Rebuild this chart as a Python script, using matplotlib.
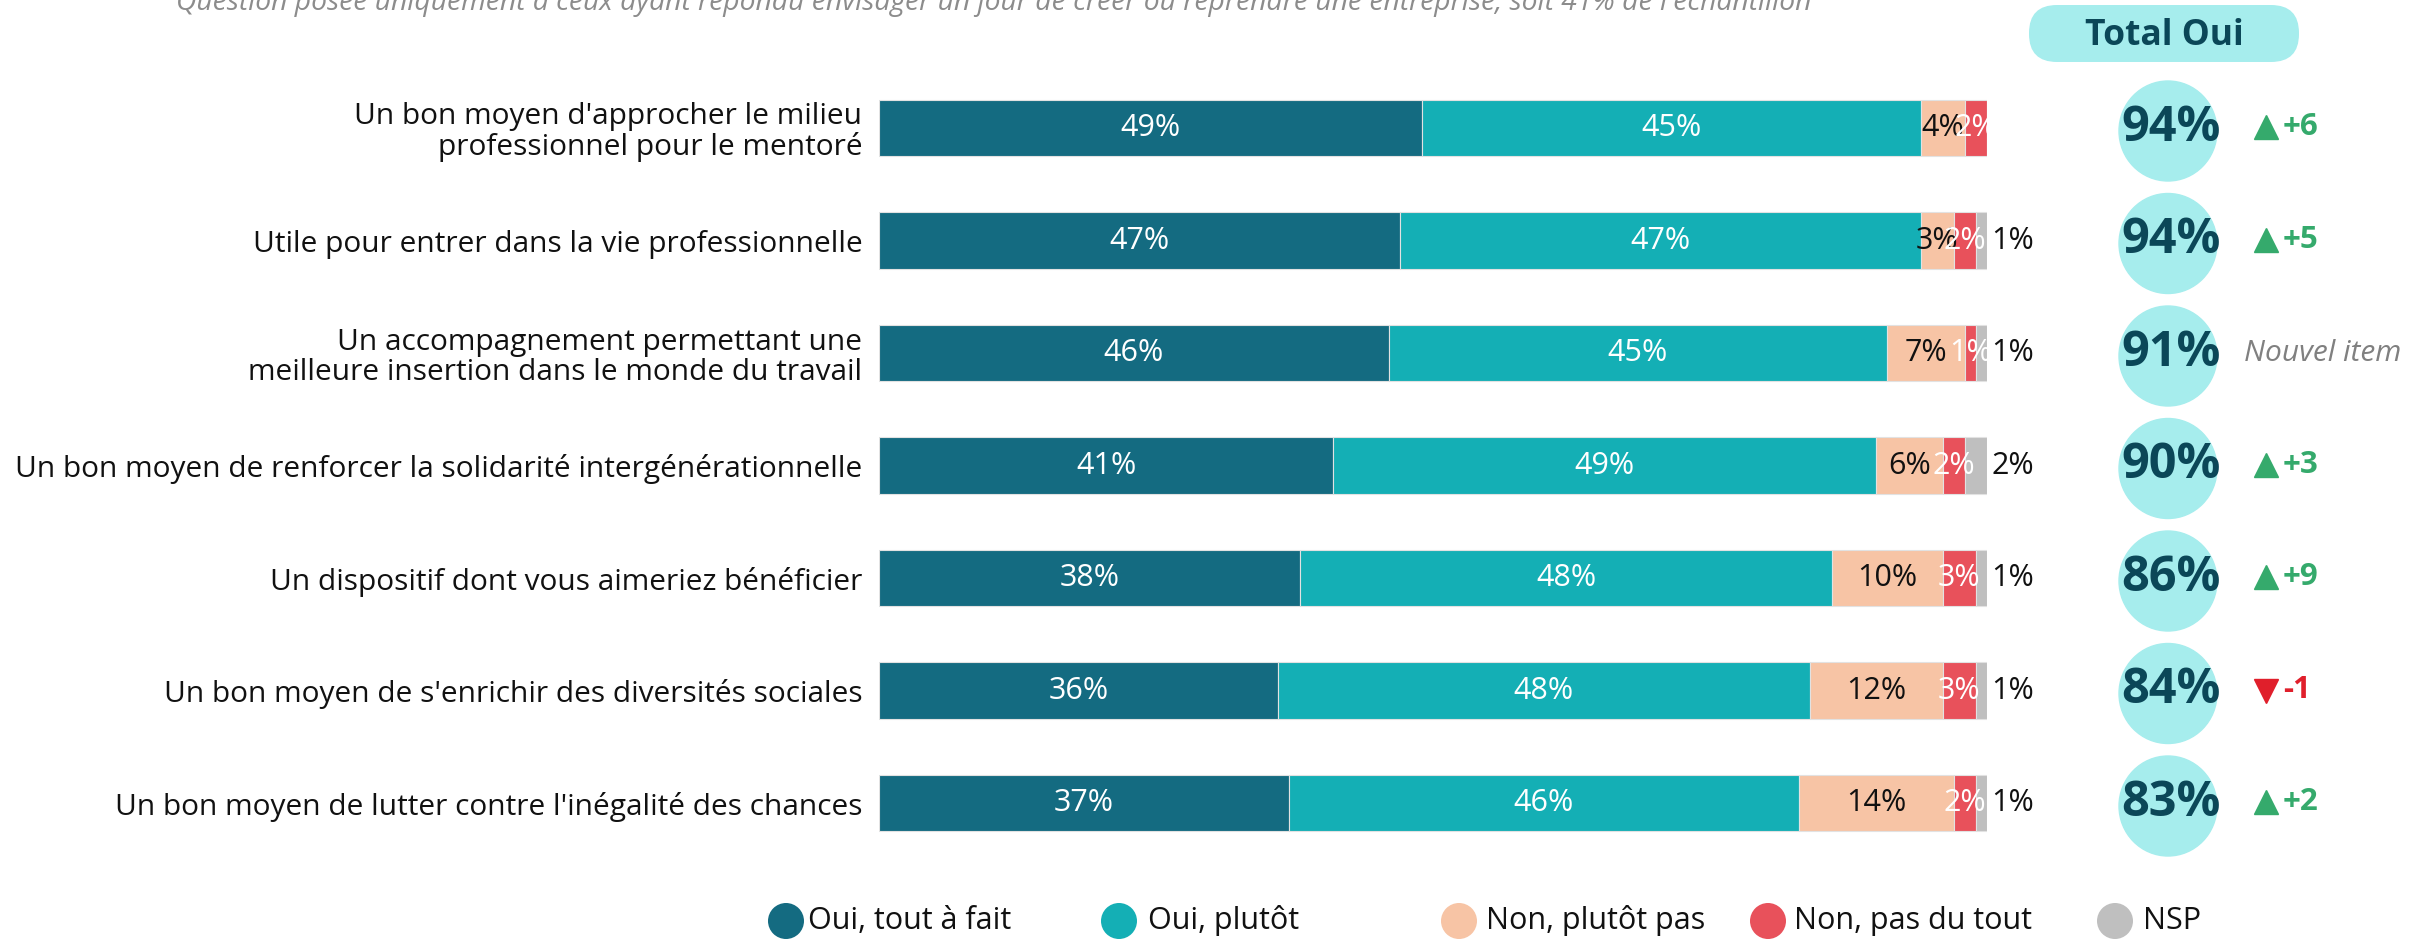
import matplotlib
matplotlib.use("Agg")
import matplotlib.pyplot as plt
from matplotlib.patches import Ellipse, FancyBboxPatch

plt.rcParams['font.family'] = ['Open Sans', 'DejaVu Sans']

# données
categories = [
    "Un bon moyen d'approcher le milieu\nprofessionnel pour le mentoré",
    "Utile pour entrer dans la vie professionnelle",
    "Un accompagnement permettant une\nmeilleure insertion dans le monde du travail",
    "Un bon moyen de renforcer la solidarité intergénérationnelle",
    "Un dispositif dont vous aimeriez bénéficier",
    "Un bon moyen de s'enrichir des diversités sociales",
    "Un bon moyen de lutter contre l'inégalité des chances",
]
oui_tout = [49, 47, 46, 41, 38, 36, 37]
oui_plutot = [45, 47, 45, 49, 48, 48, 46]
non_plutot = [4, 3, 7, 6, 10, 12, 14]
non_pas = [2, 2, 1, 2, 3, 3, 2]
nsp = [0, 1, 1, 2, 1, 1, 1]
total_oui = [94, 94, 91, 90, 86, 84, 83]
evolution = ["+6", "+5", None, "+3", "+9", "-1", "+2"]
series_names = ["Oui, tout à fait", "Oui, plutôt", "Non, plutôt pas", "Non, pas du tout", "NSP"]
subtitle = ("Question posée uniquement à ceux ayant répondu envisager un jour de créer "
            "ou reprendre une entreprise, soit 41% de l'échantillon")

colors = ["#146b81", "#14afb5", "#f7c4a5", "#e8515b", "#bfbfbf"]
label_colors = ["white", "white", "#111111", "white", "#111111"]
circle_col = "#a6eded"
dark_txt = "#0b4758"

W, H = 2423, 939
fig = plt.figure(figsize=(W / 100, H / 100), dpi=100)

# axe principal : 0-100 % sur 879-1987 px, lignes espacées de 112.5 px
ax = fig.add_axes([879 / W, 1 - 859.25 / H, 1108 / W, 787.5 / H], zorder=2)
ax.patch.set_alpha(0)
xu = 100 / 1108   # unités x par pixel
yu = 1 / 112.5    # unités y par pixel

series = [oui_tout, oui_plutot, non_plutot, non_pas, nsp]
rows = range(len(categories))
left = [0] * len(categories)
for k, vals in enumerate(series):
    ax.barh(rows, vals, left=left, height=0.5, color=colors[k],
            edgecolor="#e2e2e2", linewidth=0.8)
    for i, v in enumerate(vals):
        if v == 0:
            continue
        if k == 4:
            ax.text(100 + 2.3, i, f"{v}%", ha="center", va="center",
                    fontsize=22, color=label_colors[k])
        else:
            ax.text(left[i] + v / 2, i, f"{v}%", ha="center", va="center",
                    fontsize=22, color=label_colors[k])
    left = [a + b for a, b in zip(left, vals)]

ax.set_xlim(0, 100)
ax.set_ylim(6.5, -0.5)
ax.set_yticks(list(rows), categories, fontsize=21.5, color="#111111",
              linespacing=1.05)
ax.tick_params(axis="y", length=0, pad=12)
ax.set_xticks([])
for s in ax.spines.values():
    s.set_visible(False)

# colonne Total Oui
for i, t in enumerate(total_oui):
    ax.add_patch(Ellipse(((2168 - 879) * xu, i + 3 * yu), 98 * xu, 100 * yu,
                         color=circle_col, clip_on=False, zorder=1))
    ax.text((2171 - 879) * xu, i, f"{t}%", ha="center", va="center",
            fontsize=35, fontweight="bold", color=dark_txt, zorder=3)
    ev = evolution[i]
    if ev is None:
        ax.text((2244 - 879) * xu, i, "Nouvel item", ha="left", va="center",
                fontsize=21.5, style="italic", color="#808080")
    else:
        up = ev.startswith("+")
        c = "#35aa6c" if up else "#e01f2b"
        ax.plot((2266 - 879) * xu, i - (1 if up else 0) * yu, marker="^" if up else "v",
                markersize=17, color=c, clip_on=False)
        ax.text((2283 - 879) * xu, i - 1 * yu, ev, ha="left", va="center",
                fontsize=22.5, fontweight="bold", color=c)

# calque en pixels : sous-titre, pastille, légende
ov = fig.add_axes([0, 0, 1, 1], zorder=1)
ov.set_xlim(0, W)
ov.set_ylim(H, 0)
ov.axis("off")

ov.text(994, 10, subtitle, ha="center", va="baseline", fontsize=20.3,
        style="italic", color="#8c8c8c")

ov.add_patch(FancyBboxPatch((2029, 5), 270, 57,
                            boxstyle="round,pad=0,rounding_size=28",
                            color=circle_col, lw=0))
ov.text(2164, 36, "Total Oui", ha="center", va="center", fontsize=25.5,
        fontweight="bold", color=dark_txt)

marker_x = [786, 1119, 1459, 1768, 2115]
text_x = [808, 1148, 1486, 1794, 2143]
for k, name in enumerate(series_names):
    ov.add_patch(Ellipse((marker_x[k], 921), 36, 36, color=colors[k], lw=0))
    ov.text(text_x[k], 921, name, ha="left", va="center", fontsize=22,
            color="#111111")

fig.savefig("out.png", dpi=100)
